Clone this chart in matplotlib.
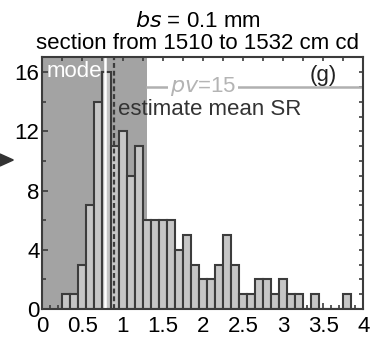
import matplotlib
matplotlib.use("Agg")
import matplotlib.pyplot as plt
from matplotlib.patches import Polygon
import numpy as np

plt.rcParams['font.family'] = ['Liberation Sans', 'DejaVu Sans']

# ---- data ----
bin_centers = [0.3, 0.4, 0.5, 0.6, 0.7, 0.8, 0.9, 1.0, 1.1, 1.2, 1.3, 1.4, 1.5,
               1.6, 1.7, 1.8, 1.9, 2.0, 2.1, 2.2, 2.3, 2.4, 2.5, 2.6, 2.7, 2.8,
               2.9, 3.0, 3.1, 3.2, 3.3, 3.4, 3.5, 3.6, 3.7, 3.8, 3.9]
counts = [1, 1, 3, 7, 14, 16, 11, 12, 9, 11, 6, 6, 6,
          6, 4, 5, 3, 2, 2, 3, 5, 3, 1, 1, 2, 2,
          1, 2, 1, 1, 0, 1, 0, 0, 0, 1, 0]
bin_size = 0.1
mode_value = 0.785
mean_sr = 0.888
shade_range = (0.0, 1.3)
pv_value = 15
xtick_vals = [0, 0.5, 1, 1.5, 2, 2.5, 3, 3.5, 4]
xtick_labels = ['0', '0.5', '1', '1.5', '2', '2.5', '3', '3.5', '4']
ytick_vals = [0, 4, 8, 12, 16]
ytick_labels = ['0', '4', '8', '12', '16']

W, H = 380, 339
fig = plt.figure(figsize=(W / 100, H / 100), dpi=100)
ax_l, ax_r, ax_t, ax_b = 42.3, 363.3, 57.4, 309.0
ax = fig.add_axes([ax_l / W, 1 - ax_b / H, (ax_r - ax_l) / W, (ax_b - ax_t) / H])

edge = '#3c3c3c'
fs = 16

ax.axvspan(shade_range[0], shade_range[1], color='#a3a3a3', zorder=0, lw=0)
ax.bar(bin_centers, counts, width=bin_size, color='#c6c6c6', edgecolor=edge,
       linewidth=1.5, zorder=2)
ax.axvline(mode_value, color='white', lw=1.8, zorder=3)
ax.axvline(mean_sr, color=edge, lw=1.6, ls=(0, (2.2, 1.3)), zorder=4)
ax.plot([shade_range[1], 4], [pv_value, pv_value], color='#b0b0b0', lw=1.8, zorder=3)

ax.set_xlim(0, 4)
ax.set_ylim(0, 17)

ax.text(0.05, 15.65, 'mode', color='white', fontsize=fs, ha='left', va='baseline', zorder=5)
ax.text(0.94, 13.1, 'estimate mean SR', color='#333333', fontsize=fs, ha='left',
        va='baseline', zorder=5)
ax.text(2.0, 14.68, r'$\it{pv}$=15', color='#b4b4b4', fontsize=fs, ha='center',
        va='baseline', zorder=5,
        bbox=dict(facecolor='white', edgecolor='none', pad=1.5))
ax.text(3.5, 15.75, '(g)', color='#222222', fontsize=fs, ha='center', va='center', zorder=5)

for s in ax.spines.values():
    s.set_color(edge)
    s.set_linewidth(1.5)
    s.set_zorder(6)

ax.set_xticks(xtick_vals)
ax.set_xticklabels(xtick_labels)
ax.set_xticks(np.arange(0, 4.01, 0.1), minor=True)
ax.set_yticks(ytick_vals)
ax.set_yticklabels(ytick_labels)
ax.set_yticks(np.arange(0, 17, 2), minor=True)
ax.tick_params(axis='both', which='both', direction='in', color=edge, width=1.2,
               labelsize=fs, labelcolor='black')
ax.tick_params(axis='both', which='major', length=4)
ax.tick_params(axis='both', which='minor', length=3)
ax.tick_params(axis='x', pad=5)
ax.tick_params(axis='y', pad=2)

secx = ax.secondary_xaxis('top')
secx.set_xticks(np.arange(0, 4.01, 0.25))
secx.tick_params(direction='in', length=3, width=1.2, color=edge, labeltop=False)
secx.spines['top'].set_visible(False)
secy = ax.secondary_yaxis('right')
secy.set_yticks(np.arange(0, 17, 1))
secy.tick_params(direction='in', length=3, width=1.2, color=edge, labelright=False)
secy.spines['right'].set_visible(False)

fig.text(198 / W, 1 - 27 / H, r'$\it{bs}$ = 0.1 mm', fontsize=fs, ha='center', va='baseline')
fig.text(198 / W, 1 - 49 / H, 'section from 1510 to 1532 cm cd', fontsize=fs,
         ha='center', va='baseline')

tri = Polygon([[0 / W, 1 - 154 / H], [13.3 / W, 1 - 160 / H], [0 / W, 1 - 166 / H]],
              closed=True, transform=fig.transFigure, color='#333333')
fig.patches.append(tri)

fig.savefig('out.png', dpi=100)
